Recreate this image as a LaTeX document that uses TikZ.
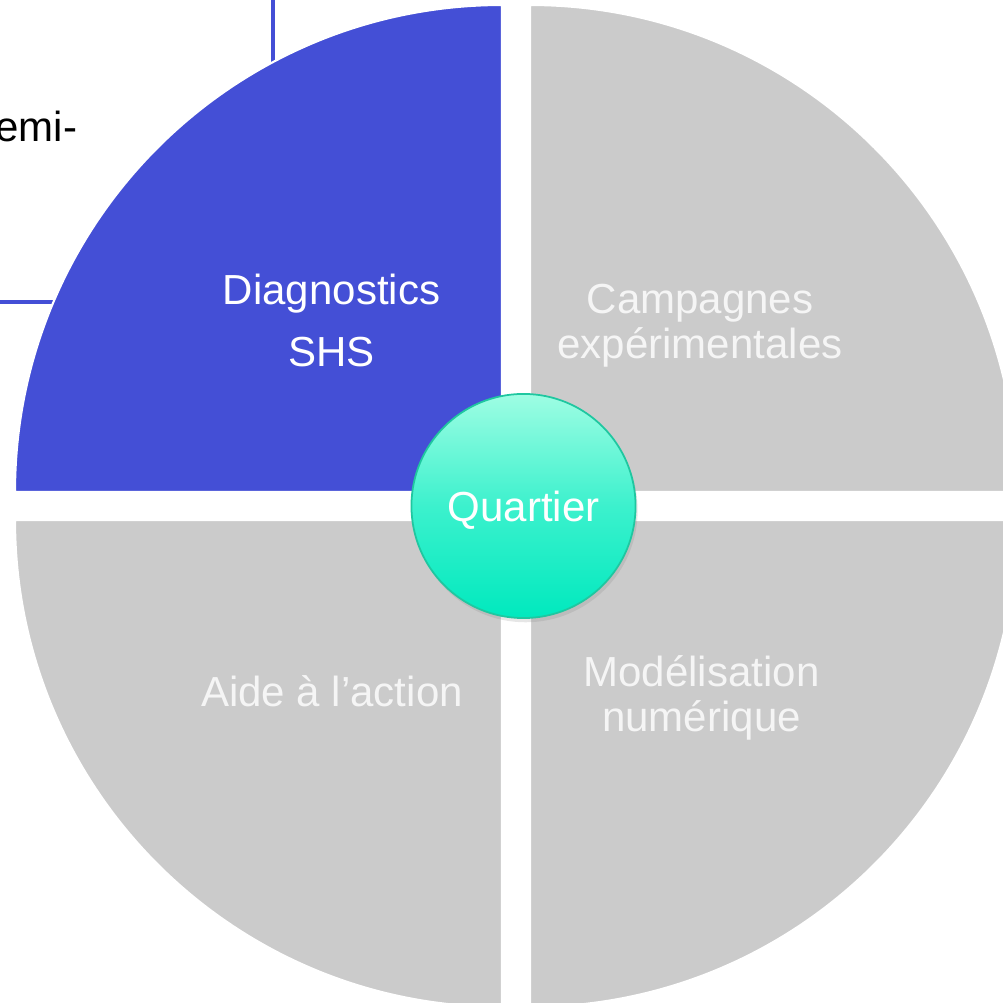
\documentclass[tikz,border=0pt]{standalone}
\usepackage{fontspec}
\setmainfont{Liberation Sans}
\usetikzlibrary{shadows, calc}

\definecolor{shsblue}{HTML}{444FD6}
\definecolor{sectorgrey}{HTML}{CBCBCB}
\definecolor{sectortext}{HTML}{F5F5F5}
\definecolor{quartiertop}{HTML}{9EFDE3}
\definecolor{quartiermid}{HTML}{3CF1CD}
\definecolor{quartierbottom}{HTML}{00E9BE}
\definecolor{quartierrim}{HTML}{1FC7A0}

\begin{document}
\begin{tikzpicture}[x=0.01cm, y=0.01cm, font=\fontsize{11.95}{14}\selectfont]
	\def\radius{487}
	\tikzset	{
		sector/.pic={
			code={
				\fill[draw=white, line width=0.6pt]	(0,0) -- (0,\radius) arc (90:180:\radius) -- cycle;
			}
		},
		label/.style={inner sep=0, anchor=north, align=center},
	}

	\useasboundingbox (0,0) rectangle (1003,1003);
	\clip (0,0) rectangle (1003,1003);

	% lines coming in from the cropped part
	\coordinate (top link) at (273,1003);
	\coordinate (top end) at (273,930);
	\coordinate (left link) at (0,701);
	\coordinate (left end) at (70,701);
	\draw[shsblue, line width=1.3pt]	(top link) -- (top end);
	\draw[shsblue, line width=1.3pt]	(left link) -- (left end);

	\node[inner sep=0, anchor=base east] (cut) at (78,861) {emi-};

	\coordinate (A) at (502,511);
	\coordinate (B) at (530,511);
	\coordinate (C) at (502,483);
	\coordinate (D) at (530,483);

	\pic[fill=shsblue] at (A) {sector};
	\pic[fill=sectorgrey, rotate=-90] at (B) {sector};
	\pic[fill=sectorgrey, rotate=90] at (C) {sector};
	\pic[fill=sectorgrey, rotate=180] at (D) {sector};

	\node[label, text=white, font=\fontsize{11.95}{17.6}\selectfont] (shs) at (331.5,730) {Diagnostics\\SHS};
	\node[label, text=sectortext, font=\fontsize{11.95}{12.8}\selectfont] (campagnes) at (700,720) {Campagnes\\expérimentales};
	\node[label, text=sectortext] (aide) at (332,328) {Aide à l’action};
	\node[label, text=sectortext, font=\fontsize{11.95}{12.8}\selectfont] (modelisation) at (701.5,348) {Modélisation\\numérique};

	\node[circle, minimum size=2.24cm, inner sep=0, draw=quartierrim, line width=0.5pt,
		top color=quartiertop, bottom color=quartierbottom, middle color=quartiermid,
		drop shadow={shadow xshift=0.6pt, shadow yshift=-1.2pt, opacity=0.2},
		text=white, text depth=0pt] (quartier) at (523.5,497) {Quartier};
\end{tikzpicture}
\end{document}
